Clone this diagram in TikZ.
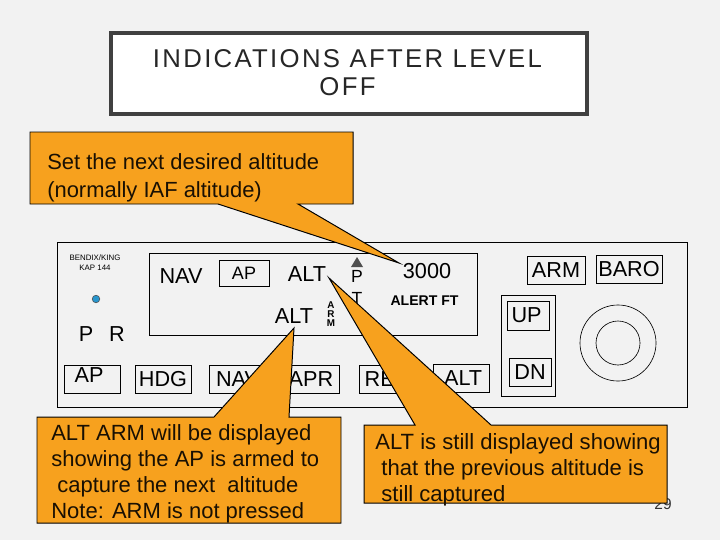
\documentclass[tikz,border=0pt]{standalone}
\usepackage{fontspec}
\setmainfont{Liberation Sans}
\usepackage{xcolor}
\usetikzlibrary{positioning}
\definecolor{SlideBg}{RGB}{242,242,242}
\definecolor{CallFill}{RGB}{247,161,30}
\definecolor{TitleEdge}{RGB}{64,64,64}
\definecolor{TipGray}{RGB}{80,80,80}
\definecolor{DotBlue}{RGB}{40,150,205}
\begin{document}
\begin{tikzpicture}[
x=0.025cm,y=-0.025cm,
lbl/.style={inner sep=0pt,font=\fontsize{15.4}{18}\selectfont},
btn/.style={lbl,draw,line width=0.55pt,minimum width=1.4cm,minimum height=0.7cm},
call/.style={draw=black,line width=0.7pt,fill=CallFill,line join=miter},
calltxt/.style={inner sep=0pt,anchor=west,align=left,text=black!90!CallFill}
]
\fill[SlideBg] (0,0) rectangle (720,540);
% title
\node[draw=TitleEdge,line width=2.85pt,fill=white,minimum width=11.9cm,minimum height=2.03cm,inner sep=0pt] (titlebox) at (349,73.5) {};
\node[inner sep=0pt,align=center,text=black!85,font=\fontsize{18.3}{19.6}\selectfont\addfontfeature{LetterSpace=9}] (title) at (347.5,72.5) {INDICATIONS AFTER LEVEL\\OFF};
% page number, mostly under the box
\node[inner sep=0pt,text=black!80,font=\fontsize{11}{13}\selectfont] (pagenum) at (663,504) {29};
% panel
\node[draw,line width=0.55pt,fill=SlideBg,minimum width=15.75cm,minimum height=4.125cm] (panel) at (372,324.5) {};
\node[draw,line width=0.55pt,minimum width=8.2cm,minimum height=2.05cm] (display) at (313,294) {};
\node[inner sep=0pt,align=center,font=\fontsize{5.6}{7}\selectfont] (brand) at (95,263) {BENDIX/KING\\KAP 144};
\node[circle,draw=black!70,fill=DotBlue,line width=0.4pt,minimum size=0.19cm,inner sep=0pt] (led) at (96,299) {};
\node[lbl] (plbl) at (86,334) {P};
\node[lbl] (rlbl) at (117,334) {R};
% display texts
\node[lbl] (navlbl) at (181,276) {NAV};
\node[btn,font=\fontsize{12.8}{15}\selectfont,minimum width=1.25cm,minimum height=0.65cm] (apbox) at (244,273) {AP};
\node[lbl] (altcap) at (307,274) {ALT};
\node[lbl] (altarm) at (294,316) {ALT};
\node[inner sep=0pt,align=center,font=\fontsize{7}{6.6}\selectfont\bfseries] (armstack) at (331,314) {A\\R\\M};
\fill[TipGray] (357,257) -- (363,267) -- (351,267) -- cycle;
\node[lbl,font=\fontsize{12.5}{15}\selectfont] (plet) at (357,276) {P};
\node[lbl,font=\fontsize{12.5}{15}\selectfont] (tlet) at (357,298) {T};
\node[lbl] (alertnum) at (427,271) {3000};
\node[inner sep=0pt,font=\fontsize{10}{12}\selectfont\bfseries] (alertft) at (424.5,301) {ALERT FT};
% buttons
\node[btn,text depth=5.5pt] (apbtn) at (92,379) {AP\kern4pt};
\node[btn] (hdgbtn) at (163,379) {HDG};
\node[btn,minimum width=1.425cm] (navbtn) at (237.5,379) {NAV};
\node[btn] (aprbtn) at (311,379) {APR};
\node[btn] (revbtn) at (387,379) {REV};
\node[btn] (altbtn) at (461,378) {\kern3pt ALT};
\node[btn,minimum width=1.45cm] (armbtn) at (556,270) {ARM};
\node[btn,minimum width=1.65cm] (barobtn) at (629,269) {BARO};
\node[draw,line width=0.55pt,minimum width=1.35cm,minimum height=2.525cm] (updn) at (528,345.5) {};
\node[btn,minimum width=1.05cm,minimum height=0.725cm] (upbtn) at (528,315.5) {UP\kern2pt};
\node[btn,minimum width=1.05cm] (dnbtn) at (530,372) {DN};
% knob
\node[circle,draw,line width=0.45pt,minimum size=1.9cm] (knobout) at (618,343) {};
\node[circle,draw,line width=0.45pt,minimum size=1.1cm] (knobin) at (618,343) {};
% callouts
\draw[call] (30,132) -- (353,132) -- (353,204) -- (298,204) -- (399,263) -- (218,204) -- (30,204) -- cycle;
\node[calltxt,font=\fontsize{15.6}{19.9}\selectfont] (setalt) at (47,178) {Set the next desired altitude\\(normally IAF altitude)};
\draw[call] (37,417) -- (214,417) -- (294,328) -- (289,417) -- (341,417) -- (341,523) -- (37,523) -- cycle;
\node[calltxt,font=\fontsize{15.65}{18.5}\selectfont] (armnote) at (51,474) {ALT ARM will be displayed\\showing the AP is armed to\\\ capture the next\ \ altitude\\Note: ARM is not pressed};
\draw[call] (364,425) -- (415,425) -- (329,278) -- (491,425) -- (667,425) -- (667,503) -- (364,503) -- cycle;
\node[calltxt,font=\fontsize{15.7}{18.5}\selectfont] (stillcap) at (375,470) {ALT is still displayed showing\\\ that the previous altitude is\\\ still captured};
\end{tikzpicture}
\end{document}
